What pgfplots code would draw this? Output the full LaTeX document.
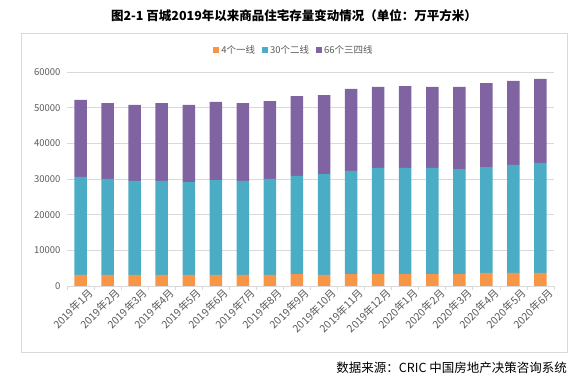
\documentclass[border=0pt]{standalone}
\usepackage{pgfplots}
\usepackage{pgfplotstable}
\pgfplotsset{compat=1.18}
\usepackage{fontspec}
\setmainfont{Noto Sans CJK SC}
\definecolor{cOr}{HTML}{F79646}
\definecolor{cBl}{HTML}{4BACC6}
\definecolor{cPu}{HTML}{8064A2}
\definecolor{cTx}{HTML}{595959}
\definecolor{cGr}{HTML}{D9D9D9}
\pgfplotstableread{
x o b p
0 3100 27500 21550
1 3100 26900 21300
2 3100 26350 21300
3 3100 26350 21850
4 3100 26050 21600
5 3100 26600 21900
6 3100 26350 21850
7 3100 26900 21850
8 3350 27500 22400
9 3100 28300 22150
10 3350 28900 23000
11 3350 29750 22700
12 3350 29750 22950
13 3350 29750 22700
14 3350 29450 23000
15 3650 29700 23550
16 3650 30300 23550
17 3650 30850 23550
}\datatable
\begin{document}
\begin{tikzpicture}[x=1pt,y=1pt]
\path[use as bounding box] (0,0) rectangle (584,382);
\draw[cGr, line width=0.75pt] (21,30) rectangle (567,349);
\node[font=\fontsize{12.5}{14}\selectfont\bfseries] at (294,366) {图2-1 百城2019年以来商品住宅存量变动情况（单位：万平方米）};
\node[anchor=east, font=\fontsize{12.5}{14}\selectfont, inner sep=0pt] at (567,14) {数据来源：CRIC 中国房地产决策咨询系统};
\begin{axis}[
  at={(67pt,96pt)}, anchor=south west, scale only axis,
  width=487pt, height=214pt,
  ybar stacked, bar width=12.5pt,
  ymin=0, ymax=60000, ytick={0,10000,...,60000},
  xmin=-0.5, xmax=17.5, enlarge x limits=false,
  xtick={0,...,17},
  xticklabels={2019年1月,2019年2月,2019年3月,2019年4月,2019年5月,2019年6月,2019年7月,2019年8月,2019年9月,2019年10月,2019年11月,2019年12月,2020年1月,2020年2月,2020年3月,2020年4月,2020年5月,2020年6月},
  minor xtick={-0.5,0.5,...,17.5},
  major tick length=0pt, minor tick length=4pt, tick align=outside,
  axis x line*=bottom, axis y line*=left,
  y axis line style={draw=none},
  x axis line style={cGr, line width=0.9pt, -},
  xtick style={cGr, line width=0.75pt},
  ytick style={draw=none},
  ymajorgrids, grid style={cGr, line width=0.75pt},
  scaled y ticks=false,
  /pgf/number format/1000 sep={},
  /pgf/number format/assume math mode=true,
  yticklabel style={font=\fontsize{9.5}{11}\selectfont, text=cTx, xshift=-3pt},
  xticklabel style={font=\fontsize{10.5}{12}\selectfont, text=cTx, rotate=45, anchor=north east, inner sep=1pt, xshift=5pt, yshift=-5pt},
  legend style={at={(0.466,1.103)}, anchor=center, draw=none, fill=none,
    legend columns=3, font=\fontsize{9.5}{11}\selectfont, text=cTx,
    /tikz/every even column/.append style={column sep=5pt},
    inner sep=1pt},
  legend image code/.code={\fill[#1] (0pt,-3pt) rectangle (6pt,3pt);},
]
\addplot[fill=cOr, draw=none] table[x=x, y=o] {\datatable};
\addplot[fill=cBl, draw=none] table[x=x, y=b] {\datatable};
\addplot[fill=cPu, draw=none] table[x=x, y=p] {\datatable};
\legend{4个一线,30个二线,66个三四线}
\end{axis}
\end{tikzpicture}
\end{document}
